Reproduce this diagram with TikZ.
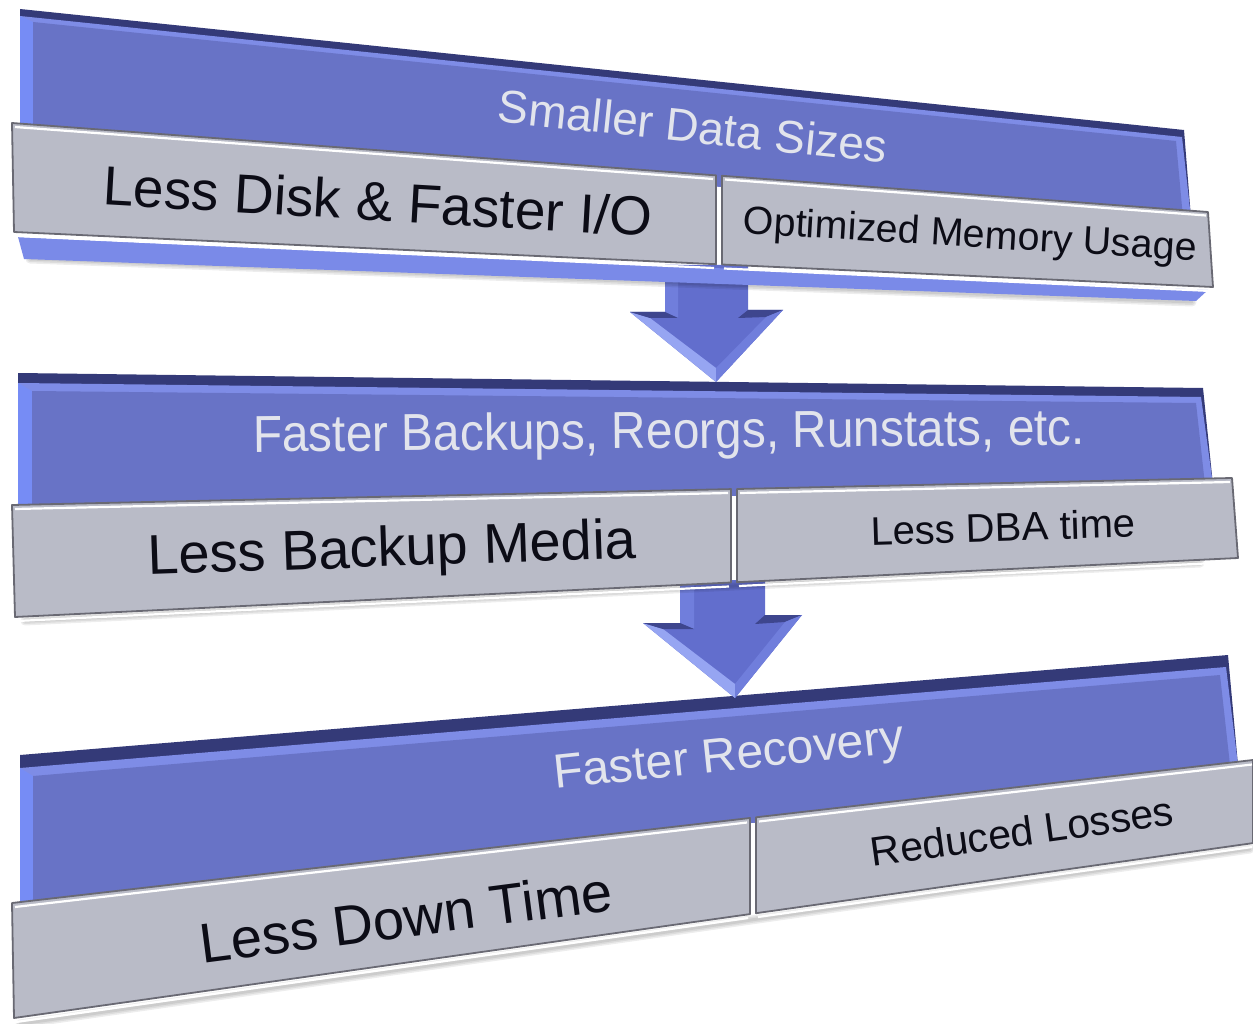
\documentclass[tikz,border=0pt]{standalone}
\usepackage{fontspec}
\setmainfont{Liberation Sans}
\definecolor{slabDark}{RGB}{52,58,120}
\definecolor{slabRim}{RGB}{126,140,230}
\definecolor{slabSide}{RGB}{118,140,245}
\definecolor{slabFace}{RGB}{104,115,198}
\definecolor{barFace}{RGB}{185,187,199}
\definecolor{barEdge}{RGB}{105,105,115}
\definecolor{capText}{RGB}{226,228,236}
\definecolor{barText}{RGB}{12,12,22}
\definecolor{stripBlue}{RGB}{122,138,232}
\definecolor{arrowFace}{RGB}{98,110,205}
\definecolor{arrowLight}{RGB}{150,165,242}
\definecolor{arrowDark}{RGB}{62,70,142}
\definecolor{arrowMid}{RGB}{112,126,220}
\tikzset{
  slabdark/.style={fill=slabDark},
  slabrim/.style={fill=slabRim},
  slabside/.style={fill=slabSide},
  slabface/.style={fill=slabFace},
  barbox/.style={fill=barFace, draw=barEdge, line width=1.8pt, line join=round},
  barshine/.style={draw=white, line width=2.2pt},
  softshadow/.style={draw=black, opacity=0.07, line cap=round},
  arrowbody/.style={fill=arrowFace},
  arrowlit/.style={fill=arrowLight},
  arrowtop/.style={fill=arrowDark},
  arrowshade/.style={fill=arrowMid},
  captext/.style={text=capText, inner sep=0pt},
  bartext/.style={text=barText, inner sep=0pt},
}
% a soft shadow built from a few stacked translucent strokes
\newcommand\shadowstroke[2]{%
  \draw[softshadow, line width=9pt] #1 -- #2;
  \draw[softshadow, line width=6pt] #1 -- #2;
  \draw[softshadow, line width=3pt] #1 -- #2;}
\begin{document}
\begin{tikzpicture}[x=1pt, y=-1pt]
\useasboundingbox (0,0) rectangle (1253,1024);

% ---------- third tier: Faster Recovery ----------
\fill[slabdark]  (20,755) -- (1228,655) -- (1238,765) -- (20,910) -- cycle;
\fill[slabrim]   (20,768) -- (1226,667) -- (1238,765) -- (20,910) -- cycle;
\fill[slabside]  (20,768) -- (33,776) -- (33,910) -- (20,910) -- cycle;
\fill[slabface]  (33,776) -- (1220,675) -- (1230,765) -- (33,910) -- cycle;
\node[captext, rotate=6, font=\fontsize{48}{56}\selectfont] (recovery) at (729,759) {Faster Recovery};

\shadowstroke{(20,1024)}{(1250,849)}
\draw[barbox] (12,903) -- (750,818) -- (750,914.1) -- (14,1018) -- cycle;
\draw[barbox] (756,817.3) -- (1253,760) -- (1253,843.1) -- (756,913.2) -- cycle;
\draw[barshine] (15,907) -- (747,822.5);
\draw[barshine] (759,821.5) -- (1252,764.5);
\draw[barshine] (16,1022) -- (748,918);
\draw[barshine] (758,917) -- (1252,847);
\node[bartext, rotate=7.4, font=\fontsize{56}{64}\selectfont] (downtime) at (406,917) {Less Down Time};
\node[bartext, rotate=7.9, font=\fontsize{41}{49}\selectfont] (losses) at (1022,831) {Reduced Losses};

% ---------- arrow from the second tier to the third ----------
\fill[arrowbody]  (680,580) -- (765,580) -- (765,615) -- (802,615) -- (735,698) -- (643,623) -- (680,623) -- cycle;
\fill[arrowlit]   (643,623) -- (735,698) -- (735,684) -- (663,629) -- cycle;
\fill[arrowshade] (680,580) -- (694,580) -- (694,629) -- (680,623) -- cycle;
\fill[arrowtop]   (643,623) -- (680,623) -- (694,629) -- (663,629) -- cycle;
\fill[arrowtop]   (765,615) -- (802,615) -- (785,622) -- (755,624) -- cycle;
\fill[arrowshade] (802,615) -- (735,698) -- (735,684) -- (785,622) -- cycle;

% ---------- second tier: Faster Backups ----------
\fill[slabdark]  (18,373) -- (1203,388) -- (1213,485) -- (18,512) -- cycle;
\fill[slabrim]   (18,383) -- (1201,397) -- (1213,485) -- (18,512) -- cycle;
\fill[slabside]  (18,383) -- (32,391) -- (32,512) -- (18,512) -- cycle;
\fill[slabface]  (32,391) -- (1196,403) -- (1205,485) -- (32,512) -- cycle;
\node[captext, rotate=0.5, xscale=0.92, font=\fontsize{52}{60}\selectfont] (backups) at (669,435) {Faster Backups, Reorgs, Runstats, etc.};

\shadowstroke{(25,621)}{(1200,563)}
\draw[barbox] (12,505) -- (731,489.1) -- (731,582.5) -- (15,617) -- cycle;
\draw[barbox] (737,489) -- (1232,478) -- (1238,558) -- (737,582.2) -- cycle;
\draw[barshine] (15,509) -- (728,493);
\draw[barshine] (740,493) -- (1230,482);
\draw[barshine] (17,621) -- (729,586.5);
\draw[barshine] (739,586) -- (1236,562);
\node[bartext, rotate=2, font=\fontsize{56}{64}\selectfont] (media) at (392,552) {Less Backup Media};
\node[bartext, rotate=1.8, font=\fontsize{40}{48}\selectfont] (dbatime) at (1003,527) {Less DBA time};

% ---------- arrow from the first tier to the second ----------
\fill[arrowbody]  (665,265) -- (748,265) -- (748,310) -- (783,310) -- (716,382) -- (630,312) -- (665,312) -- cycle;
\fill[arrowlit]   (630,312) -- (716,382) -- (716,368) -- (650,318) -- cycle;
\fill[arrowshade] (665,265) -- (678,265) -- (678,318) -- (665,312) -- cycle;
\fill[arrowtop]   (630,312) -- (665,312) -- (678,318) -- (650,318) -- cycle;
\fill[arrowtop]   (748,310) -- (783,310) -- (766,317) -- (738,318) -- cycle;
\fill[arrowshade] (783,310) -- (716,382) -- (716,368) -- (766,317) -- cycle;

% ---------- first tier: Smaller Data Sizes ----------
\fill[slabdark]  (20,9) -- (1184,130) -- (1191,218) -- (20,140) -- cycle;
\fill[slabrim]   (20,16) -- (1182,137) -- (1191,218) -- (20,140) -- cycle;
\fill[slabside]  (20,16) -- (33,22) -- (33,140) -- (20,140) -- cycle;
\fill[slabface]  (33,22) -- (1176,141) -- (1183,218) -- (33,140) -- cycle;
\node[captext, rotate=-6, font=\fontsize{46}{54}\selectfont] (sizes) at (693,126) {Smaller Data Sizes};

\shadowstroke{(30,259)}{(1192,302)}
\fill[stripBlue] (18,237) -- (1208,290) -- (1196,301) -- (24,259) -- cycle;
\draw[barbox] (12,123) -- (716,175.4) -- (716,264.2) -- (14,232) -- cycle;
\draw[barbox] (722,175.8) -- (1208,212) -- (1213,287) -- (722,264.5) -- cycle;
\draw[barshine] (15,127) -- (713,179);
\draw[barshine] (725,179.5) -- (1206,215.5);
\draw[barshine] (16,236) -- (714,268);
\draw[barshine] (724,268.5) -- (1211,291);
\node[bartext, rotate=-3.3, font=\fontsize{55}{63}\selectfont] (diskio) at (378,201) {Less Disk \& Faster I/O};
\node[bartext, rotate=-3.4, font=\fontsize{39.3}{47}\selectfont] (memory) at (970,237) {Optimized Memory Usage};
\end{tikzpicture}
\end{document}
